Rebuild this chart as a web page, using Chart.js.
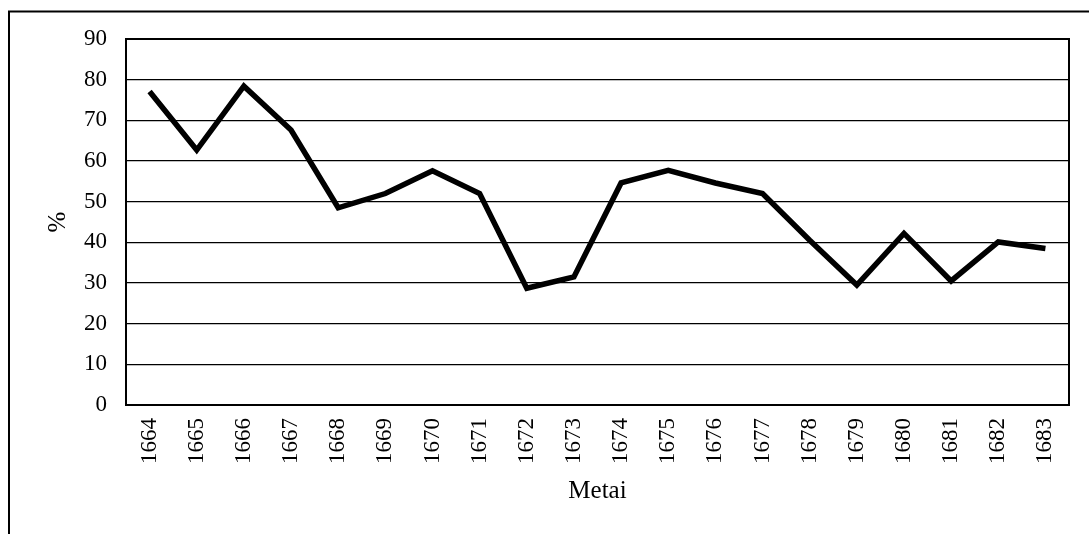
<!DOCTYPE html>
<html>
<head>
<meta charset="utf-8">
<script src="https://cdn.jsdelivr.net/npm/chart.js@4"></script>
<style>
  html, body { margin: 0; padding: 0; background: #fff; }
  #wrap { width: 1089px; height: 534px; }
</style>
</head>
<body>
<div id="wrap"><canvas id="line-chart"></canvas></div>
<script>
// duomenys
const metai = ['1664', '1665', '1666', '1667', '1668', '1669', '1670', '1671', '1672', '1673',
               '1674', '1675', '1676', '1677', '1678', '1679', '1680', '1681', '1682', '1683'];
const procentai = [77.1, 62.7, 78.4, 67.6, 48.5, 52, 57.6, 52, 28.7, 31.5,
                   54.6, 57.7, 54.6, 52, 40.5, 29.5, 42.2, 30.5, 40.1, 38.5];
const yMin = 0, yMax = 90, yStep = 10;

const serif = "'Liberation Serif', 'Times New Roman', serif";

// remelis aplink visa paveiksla ir grafiko plota
const frames = {
    id: 'frames',
    beforeDraw(chart) {
        const ctx = chart.ctx;
        ctx.save();
        ctx.strokeStyle = '#000';
        ctx.lineWidth = 2;
        ctx.strokeRect(9, 11.5, 2000, 2000);
        ctx.restore();
    },
    afterDatasetsDraw(chart) {
        const { ctx, chartArea: a } = chart;
        ctx.save();
        ctx.strokeStyle = '#000';
        ctx.lineWidth = 2;
        ctx.strokeRect(a.left, a.top, a.right - a.left, a.bottom - a.top);
        ctx.restore();
    }
};

document.addEventListener('DOMContentLoaded', () => {
    new Chart(document.getElementById('line-chart'), {
        type: 'line',
        data: {
            labels: metai,
            datasets: [{
                data: procentai,
                borderColor: '#000',
                borderWidth: 5.5,
                borderJoinStyle: 'miter',
                pointRadius: 0,
                fill: false,
                tension: 0
            }]
        },
        options: {
            responsive: true,
            maintainAspectRatio: false,
            animation: false,
            layout: { padding: { left: 0, top: 39, right: 20, bottom: 0 } },
            plugins: {
                legend: { display: false },
                tooltip: { enabled: false }
            },
            scales: {
                x: {
                    offset: true,
                    afterFit(scale) { scale.height = 129; },
                    grid: { display: false, drawTicks: false },
                    border: { display: false },
                    ticks: {
                        color: '#000',
                        font: { family: serif, size: 23 },
                        minRotation: 90,
                        maxRotation: 90,
                        autoSkip: false,
                        padding: 13
                    },
                    title: {
                        display: true,
                        text: 'Metai',
                        color: '#000',
                        font: { family: serif, size: 25 },
                        padding: { top: 0, bottom: 28 }
                    }
                },
                y: {
                    min: yMin,
                    max: yMax,
                    afterFit(scale) { scale.width = 126; },
                    grid: { color: '#000', lineWidth: 1.3, drawTicks: false },
                    border: { display: false },
                    ticks: {
                        stepSize: yStep,
                        color: '#000',
                        font: { family: serif, size: 23 },
                        padding: 19
                    },
                    title: {
                        display: true,
                        text: '%',
                        color: '#000',
                        font: { family: serif, size: 25 },
                        padding: { top: 43, bottom: 0 }
                    }
                }
            }
        },
        plugins: [frames]
    });
});
</script>
</body>
</html>
